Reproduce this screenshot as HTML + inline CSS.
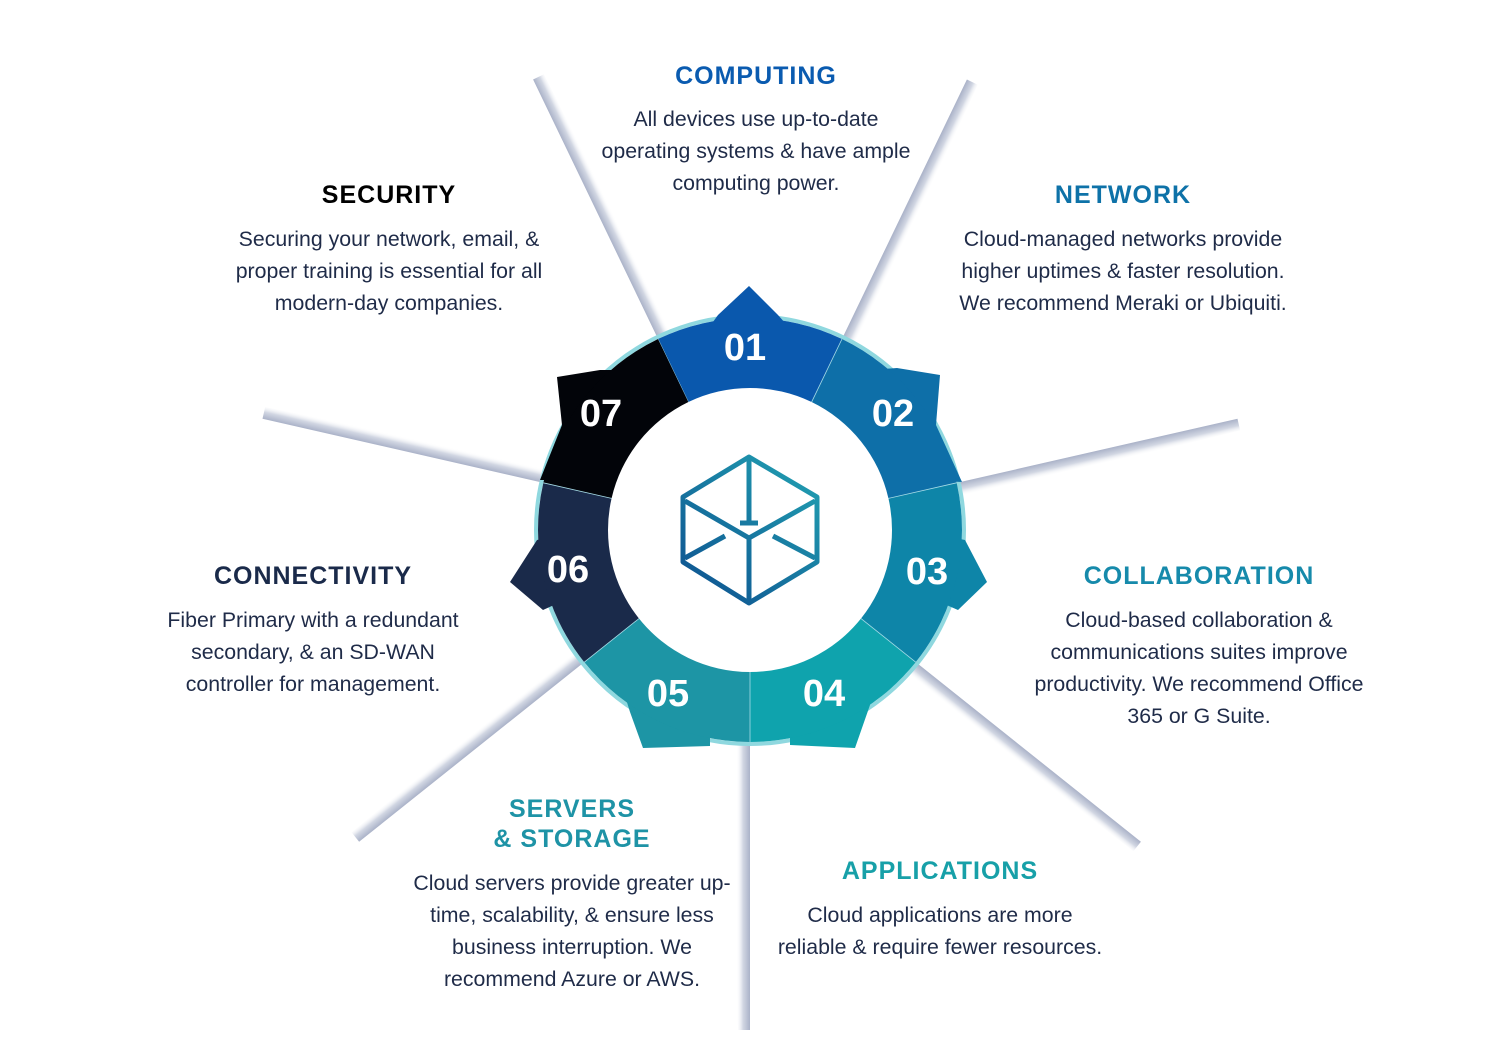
<!DOCTYPE html>
<html><head><meta charset="utf-8"><style>
html,body{margin:0;padding:0;background:#fff;}
svg{display:block;}
.t{font-family:"Liberation Sans",Arial,sans-serif;font-weight:bold;font-size:25px;letter-spacing:1px;text-anchor:middle;}
.b{font-family:"Liberation Sans",Arial,sans-serif;font-size:21.3px;fill:#1f2b48;text-anchor:middle;}
.n{font-family:"Liberation Sans",Arial,sans-serif;font-weight:bold;font-size:38px;fill:#fff;text-anchor:middle;}
</style></head><body>
<svg id="s" width="1500" height="1064" viewBox="0 0 1500 1064" xmlns="http://www.w3.org/2000/svg">
<defs>
<linearGradient id="cg" gradientUnits="userSpaceOnUse" x1="683" y1="603" x2="817" y2="457"><stop offset="0" stop-color="#0d4f8f"/><stop offset="1" stop-color="#22a3b3"/></linearGradient>
</defs>
<g id="rays"></g>
<circle cx="750" cy="530" r="214" fill="none" stroke="#8fd8df" stroke-width="4"/>
<g id="tabs">
<polygon fill="#0a58ad" points="700,340 718,315 749,286 778,315 800,340"/>
<polygon fill="#0e6fa8" points="870,370 897,368 940,375 936,425 962,482 920,480"/>
<polygon fill="#0e85a8" points="940,535 965,540 987,582 958,610 935,600"/>
<polygon fill="#0fa3ad" points="880,680 870,705 855,748 790,745 790,720"/>
<polygon fill="#1d95a5" points="620,680 630,712 643,748 710,746 710,720"/>
<polygon fill="#1a2a4a" points="560,535 537,540 510,582 543,610 565,600"/>
<polygon fill="#020409" points="630,370 600,370 557,377 562,425 540,480 580,480"/>
</g>
<g id="segs"></g>
<g fill="none" stroke="url(#cg)" stroke-width="5" stroke-linejoin="round" stroke-linecap="butt">
<polygon points="749,457 817,497 817,562 749,603 683,562 683,497"/>
<polyline points="685,501 749,538 815,501"/>
<line x1="749" y1="538" x2="749" y2="603"/>
<line x1="749" y1="459" x2="749" y2="522"/>
<line x1="740" y1="523" x2="758" y2="523"/>
<line x1="685" y1="558" x2="725" y2="536"/>
<line x1="773" y1="536" x2="815" y2="558"/>
</g>
<text class="n" x="745" y="360">01</text>
<text class="n" x="893" y="426">02</text>
<text class="n" x="927" y="584">03</text>
<text class="n" x="824" y="706">04</text>
<text class="n" x="668" y="706">05</text>
<text class="n" x="568" y="582">06</text>
<text class="n" x="601" y="426">07</text>

<text class="t" x="756" y="84" fill="#0a5bb0">COMPUTING</text>
<text class="b" x="756" y="126">All devices use up-to-date</text>
<text class="b" x="756" y="158">operating systems &amp; have ample</text>
<text class="b" x="756" y="190">computing power.</text>

<text class="t" x="389" y="203" fill="#000">SECURITY</text>
<text class="b" x="389" y="246">Securing your network, email, &amp;</text>
<text class="b" x="389" y="278">proper training is essential for all</text>
<text class="b" x="389" y="310">modern-day companies.</text>

<text class="t" x="1123" y="203" fill="#0e72a8">NETWORK</text>
<text class="b" x="1123" y="246">Cloud-managed networks provide</text>
<text class="b" x="1123" y="278">higher uptimes &amp; faster resolution.</text>
<text class="b" x="1123" y="310">We recommend Meraki or Ubiquiti.</text>

<text class="t" x="1199" y="584" fill="#168aab">COLLABORATION</text>
<text class="b" x="1199" y="627">Cloud-based collaboration &amp;</text>
<text class="b" x="1199" y="659">communications suites improve</text>
<text class="b" x="1199" y="691">productivity. We recommend Office</text>
<text class="b" x="1199" y="723">365 or G Suite.</text>

<text class="t" x="313" y="584" fill="#1a2a4a">CONNECTIVITY</text>
<text class="b" x="313" y="627">Fiber Primary with a redundant</text>
<text class="b" x="313" y="659">secondary, &amp; an SD-WAN</text>
<text class="b" x="313" y="691">controller for management.</text>

<text class="t" x="940" y="879" fill="#17a0a8">APPLICATIONS</text>
<text class="b" x="940" y="922">Cloud applications are more</text>
<text class="b" x="940" y="954">reliable &amp; require fewer resources.</text>

<text class="t" x="572" y="817" fill="#1e93a6">SERVERS</text>
<text class="t" x="572" y="847" fill="#1e93a6">&amp; STORAGE</text>
<text class="b" x="572" y="890">Cloud servers provide greater up-</text>
<text class="b" x="572" y="922">time, scalability, &amp; ensure less</text>
<text class="b" x="572" y="954">business interruption. We</text>
<text class="b" x="572" y="986">recommend Azure or AWS.</text>
</svg>
<script>
(function(){
var NS="http://www.w3.org/2000/svg",cx=750,cy=530,r1=142,r2=212,s=360/7;
var cols=["#0a58ad","#0e6fa8","#0e85a8","#0fa3ad","#1d95a5","#1a2a4a","#020409"];
function pt(a,r){var t=a*Math.PI/180;return [cx+r*Math.sin(t),cy-r*Math.cos(t)];}
var segs=document.getElementById("segs"),rays=document.getElementById("rays"),defs=document.querySelector("defs");
for(var k=0;k<7;k++){
 var a0=k*s-s/2,a1=k*s+s/2;
 var p0=pt(a0,r1),p1=pt(a0,r2),p2=pt(a1,r2),p3=pt(a1,r1);
 var d="M"+p0+" L"+p1+" A"+r2+" "+r2+" 0 0 1 "+p2+" L"+p3+" A"+r1+" "+r1+" 0 0 0 "+p0+"Z";
 var e=document.createElementNS(NS,"path");e.setAttribute("d",d);e.setAttribute("fill",cols[k]);
 segs.appendChild(e);
 var sep=document.createElementNS(NS,"line");var q0=pt(a0,r1),q1=pt(a0,r2);
 sep.setAttribute("x1",q0[0]);sep.setAttribute("y1",q0[1]);sep.setAttribute("x2",q1[0]);sep.setAttribute("y2",q1[1]);
 sep.setAttribute("stroke","#a6dbe6");sep.setAttribute("stroke-width","0.8");segs.appendChild(sep);
 var ra=a0, t=ra*Math.PI/180, px=Math.cos(t), py=Math.sin(t);
 var A=pt(ra,205),B=pt(ra,500);
 var w0=18,w1=12;
 var poly=[A,B,[B[0]+px*w1,B[1]+py*w1],[A[0]+px*w0,A[1]+py*w0]];
 var gid="rg"+k,g=document.createElementNS(NS,"linearGradient");
 g.setAttribute("id",gid);g.setAttribute("gradientUnits","userSpaceOnUse");
 var M=pt(ra,350);
 g.setAttribute("x1",M[0]);g.setAttribute("y1",M[1]);g.setAttribute("x2",M[0]+px*14);g.setAttribute("y2",M[1]+py*14);
 g.innerHTML='<stop offset="0" stop-color="#aab2c8"/><stop offset="0.5" stop-color="#d2d7e3"/><stop offset="1" stop-color="#ffffff" stop-opacity="0"/>';
 defs.appendChild(g);
 var pe=document.createElementNS(NS,"polygon");
 pe.setAttribute("points",poly.map(function(q){return q[0].toFixed(1)+","+q[1].toFixed(1);}).join(" "));
 pe.setAttribute("fill","url(#"+gid+")");rays.appendChild(pe);
}
})();
</script>
</body></html>
